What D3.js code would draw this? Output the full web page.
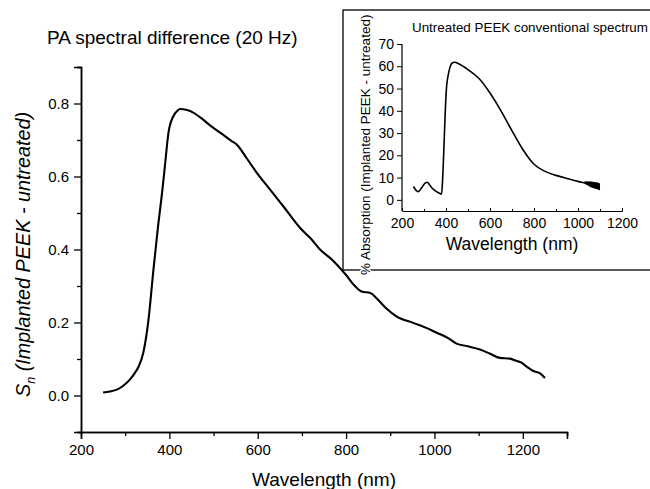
<!DOCTYPE html>
<html>
<head>
<meta charset="utf-8">
<script src="https://cdn.jsdelivr.net/npm/d3@7"></script>
<style>
  body { margin: 0; background: #fff; }
  text { font-family: "Liberation Sans", Arial, sans-serif; fill: #000; }
</style>
</head>
<body>
<div id="chart"></div>
<script>
// Main PA spectral difference curve (wavelength nm, S_n)
var mainWl = [250, 265, 281, 295, 311, 322, 330, 341, 352, 364, 375, 383, 390, 398, 409, 418, 424, 440, 454, 475,
  492, 515, 541, 552, 575, 598, 628, 660, 696, 720, 741, 770, 800, 820, 835, 855, 870, 890, 914, 952,
  980, 1005, 1030, 1050, 1075, 1103, 1125, 1148, 1171, 1185, 1197, 1210, 1224, 1240, 1250];
var mainSn = [0.008, 0.011, 0.016, 0.026, 0.044, 0.062, 0.078, 0.117, 0.20, 0.345, 0.47, 0.55, 0.63, 0.72, 0.765, 0.78, 0.785, 0.782, 0.775, 0.757,
  0.74, 0.72, 0.697, 0.688, 0.65, 0.61, 0.564, 0.515, 0.459, 0.43, 0.40, 0.37, 0.33, 0.30, 0.285, 0.281, 0.265, 0.24, 0.217, 0.199,
  0.186, 0.172, 0.158, 0.142, 0.135, 0.126, 0.115, 0.103, 0.101, 0.095, 0.09, 0.078, 0.067, 0.06, 0.048];
var mainXTicks = [200, 400, 600, 800, 1000, 1200];
var mainYTicks = [0.0, 0.2, 0.4, 0.6, 0.8];

// Inset conventional spectrum (wavelength nm, % absorption)
var insetWl = [252, 262, 274, 290, 305, 315, 325, 340, 355, 370, 380, 384, 390, 396, 402, 410, 418, 428, 440, 460,
  500, 550, 600, 650, 700, 750, 800, 850, 900, 950, 1000, 1050, 1100];
var insetAbs = [6, 4.5, 3.7, 5.5, 7.5, 7.9, 6.8, 5, 3.8, 3, 2.6, 8, 22, 38, 50, 56, 59.5, 61.5, 61.8, 61,
  58.5, 54.5, 48, 40, 31, 22.5, 16, 12.8, 11, 9.6, 8.3, 7, 5.6];
// noisy tail of the inset curve, upper and lower envelope
var tailWl = [1030, 1060, 1090, 1100];
var tailHigh = [8.4, 8.2, 7.8, 7.3];
var tailLow = [7.2, 5.6, 4.6, 4.2];
var insetXTicks = [200, 400, 600, 800, 1000, 1200];
var insetYTicks = [0, 10, 20, 30, 40, 50, 60, 70];

var width = 650, height = 489;

var svg = d3.select("#chart").append("svg")
    .attr("width", width)
    .attr("height", height);

// ---- main plot ----
var x = d3.scaleLinear().domain([200, 1300]).range([81, 567]);
var y = d3.scaleLinear().domain([-0.1, 0.9]).range([432, 67]);

svg.append("text")
    .attr("x", 47).attr("y", 44)
    .style("font-size", "19px")
    .text("PA spectral difference (20 Hz)");

var xAxis = svg.append("g")
    .attr("transform", "translate(0," + y(-0.1) + ")")
    .call(d3.axisBottom(x).tickValues(mainXTicks).tickSize(7).tickPadding(5).tickFormat(d3.format("d")));
var xMinor = svg.append("g")
    .attr("transform", "translate(0," + y(-0.1) + ")")
    .call(d3.axisBottom(x).tickValues([300, 500, 700, 900, 1100, 1300]).tickSize(4).tickFormat(""));

var yAxis = svg.append("g")
    .attr("transform", "translate(" + x(200) + ",0)")
    .call(d3.axisLeft(y).tickValues(mainYTicks).tickSize(7).tickPadding(5).tickFormat(d3.format(".1f")));
var yMinor = svg.append("g")
    .attr("transform", "translate(" + x(200) + ",0)")
    .call(d3.axisLeft(y).tickValues([-0.1, 0.1, 0.3, 0.5, 0.7, 0.9]).tickSize(4).tickFormat(""));

[xAxis, xMinor, yAxis, yMinor].forEach(function(g) {
    g.selectAll(".domain").attr("stroke", "#000").attr("stroke-width", 1.5);
    g.selectAll(".tick line").attr("stroke", "#000").attr("stroke-width", 1.3);
    g.selectAll(".tick text").style("font-size", "15px").attr("fill", "#000")
        .style("font-family", "'Liberation Sans', Arial, sans-serif");
});

svg.append("text")
    .attr("x", (x(200) + x(1300)) / 2).attr("y", 486)
    .attr("text-anchor", "middle")
    .style("font-size", "19px")
    .text("Wavelength (nm)");

var ylab = svg.append("text")
    .attr("transform", "translate(30,397) rotate(-90)")
    .style("font-size", "19.8px")
    .style("font-style", "italic");
ylab.append("tspan").text("S");
ylab.append("tspan").attr("dy", 5).style("font-size", "12.5px").text("n");
ylab.append("tspan").attr("dy", -5).text(" (Implanted PEEK - untreated)");

var line = d3.line()
    .x(function(d) { return x(d[0]); })
    .y(function(d) { return y(d[1]); })
    .curve(d3.curveMonotoneX);

svg.append("path")
    .datum(d3.zip(mainWl, mainSn))
    .attr("fill", "none")
    .attr("stroke", "#000")
    .attr("stroke-width", 2.1)
    .attr("stroke-linejoin", "round")
    .attr("d", line);

// ---- inset ----
svg.append("rect")
    .attr("x", 343).attr("y", 10)
    .attr("width", 320).attr("height", 260)
    .attr("fill", "#fff")
    .attr("stroke", "#000")
    .attr("stroke-width", 1.3);

var ix = d3.scaleLinear().domain([200, 1200]).range([402, 622]);
var iy = d3.scaleLinear().domain([-5, 70]).range([211, 44]);

svg.append("text")
    .attr("x", 412).attr("y", 32)
    .style("font-size", "13.4px")
    .text("Untreated PEEK conventional spectrum");

var ixAxis = svg.append("g")
    .attr("transform", "translate(0," + iy(-5) + ")")
    .call(d3.axisBottom(ix).tickValues(insetXTicks).tickSizeInner(-3).tickSizeOuter(0).tickPadding(7).tickFormat(d3.format("d")));
var ixMinor = svg.append("g")
    .attr("transform", "translate(0," + iy(-5) + ")")
    .call(d3.axisBottom(ix).tickValues([300, 500, 700, 900, 1100]).tickSizeInner(-2).tickSizeOuter(0).tickFormat(""));
var iyAxis = svg.append("g")
    .attr("transform", "translate(" + ix(200) + ",0)")
    .call(d3.axisLeft(iy).tickValues(insetYTicks).tickSizeInner(5).tickSizeOuter(0).tickPadding(3).tickFormat(d3.format("d")));

[ixAxis, ixMinor, iyAxis].forEach(function(g) {
    g.selectAll(".domain").attr("stroke", "#000").attr("stroke-width", 1.2);
    g.selectAll(".tick line").attr("stroke", "#000").attr("stroke-width", 1);
    g.selectAll(".tick text").style("font-size", "14px").attr("fill", "#000")
        .style("font-family", "'Liberation Sans', Arial, sans-serif");
});
iyAxis.select(".domain").attr("d", "M0," + iy(70) + "V" + iy(-5));

svg.append("text")
    .attr("x", (ix(200) + ix(1200)) / 2).attr("y", 250)
    .attr("text-anchor", "middle")
    .style("font-size", "17.5px")
    .text("Wavelength (nm)");

svg.append("text")
    .attr("transform", "translate(370,275) rotate(-90)")
    .style("font-size", "13.5px")
    .attr("stroke", "#fff").attr("stroke-width", 3)
    .attr("paint-order", "stroke")
    .text("% Absorption (Implanted PEEK - untreated)");

var iline = d3.line()
    .x(function(d) { return ix(d[0]); })
    .y(function(d) { return iy(d[1]); })
    .curve(d3.curveMonotoneX);

svg.append("path")
    .datum(d3.zip(insetWl, insetAbs))
    .attr("fill", "none")
    .attr("stroke", "#000")
    .attr("stroke-width", 1.6)
    .attr("d", iline);

var iarea = d3.area()
    .x(function(d) { return ix(d[0]); })
    .y0(function(d) { return iy(d[2]); })
    .y1(function(d) { return iy(d[1]); });

svg.append("path")
    .datum(d3.zip(tailWl, tailHigh, tailLow))
    .attr("fill", "#000")
    .attr("d", iarea);
</script>
</body>
</html>
